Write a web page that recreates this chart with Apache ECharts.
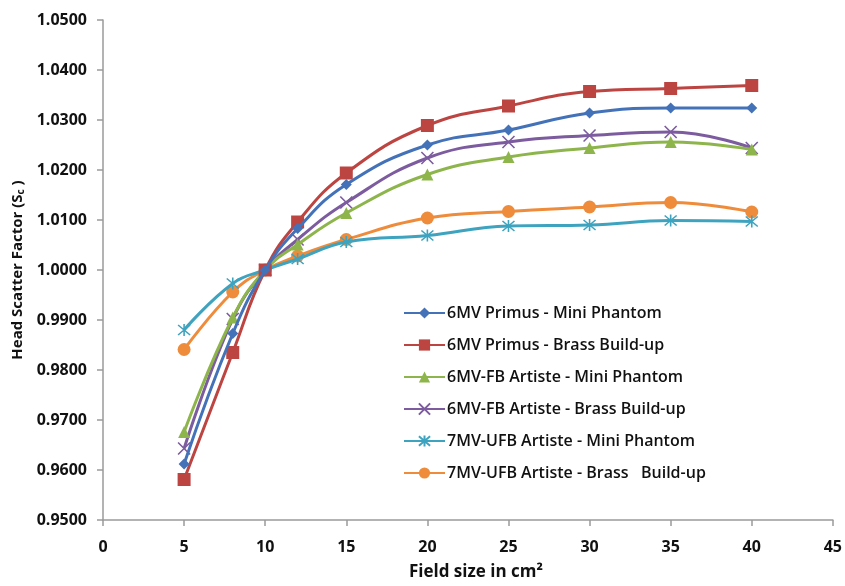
<!DOCTYPE html>
<html>
<head>
<meta charset="utf-8">
<script src="https://cdn.jsdelivr.net/npm/echarts@6/dist/echarts.min.js"></script>
<style>
html,body{margin:0;padding:0;background:#fff;}
#chart{width:845px;height:586px;}
</style>
</head>
<body>
<div id="chart"></div>
<script>
const fieldSizes = [5, 8, 10, 12, 15, 20, 25, 30, 35, 40];
const primusMini   = [0.9612, 0.9873, 1.0000, 1.0083, 1.0171, 1.0250, 1.0280, 1.0314, 1.0324, 1.0324];
const primusBrass  = [0.9581, 0.9835, 1.0000, 1.0096, 1.0194, 1.0289, 1.0328, 1.0357, 1.0363, 1.0369];
const fbMini       = [0.9676, 0.9905, 1.0000, 1.0051, 1.0114, 1.0191, 1.0226, 1.0244, 1.0256, 1.0241];
const fbBrass      = [0.9643, 0.9902, 1.0000, 1.0061, 1.0135, 1.0224, 1.0256, 1.0269, 1.0276, 1.0244];
const ufbMini      = [0.9880, 0.9973, 1.0000, 1.0022, 1.0056, 1.0069, 1.0088, 1.0090, 1.0099, 1.0097];
const ufbBrass     = [0.9841, 0.9956, 1.0000, 1.0028, 1.0061, 1.0104, 1.0117, 1.0126, 1.0135, 1.0116];
const seriesNames = [
  '6MV Primus - Mini Phantom',
  '6MV Primus - Brass Build-up',
  '6MV-FB Artiste - Mini Phantom',
  '6MV-FB Artiste - Brass Build-up',
  '7MV-UFB Artiste - Mini Phantom',
  '7MV-UFB Artiste - Brass   Build-up'
];
const yTicks = { min: 0.95, max: 1.05, step: 0.01 };
const xTicks = { min: 0, max: 45, step: 5 };

const allData = [primusMini, primusBrass, fbMini, fbBrass, ufbMini, ufbBrass];
const colors = ['#4472B8', '#BC4542', '#8DB54B', '#7C5C9F', '#3EA3BF', '#EE8C3C'];
const symbols = [
  'diamond',
  'rect',
  'triangle',
  'path://M0,0L10,10M10,0L0,10',
  'path://M0,0L10,10M10,0L0,10M5,-1L5,11',
  'circle'
];
const sizes = [11, 13, 12, 12, 12, 13];
const font = '"Open Sans", sans-serif';

const series = allData.map((arr, i) => ({
  name: seriesNames[i],
  type: 'line',
  data: fieldSizes.map((x, j) => [x, arr[j]]),
  smooth: 0.45,
  symbol: symbols[i],
  symbolSize: sizes[i],
  showAllSymbol: true,
  lineStyle: { color: colors[i], width: 3 },
  itemStyle: (i === 3 || i === 4)
    ? { color: colors[i], borderColor: colors[i], borderWidth: 1.6, opacity: 1 }
    : { color: colors[i], borderWidth: 0 },
  emphasis: { disabled: true },
  z: 10 - i
}));

const chart = echarts.init(document.getElementById('chart'), null, { renderer: 'canvas' });
chart.setOption({
  animation: false,
  backgroundColor: '#fff',
  color: colors,
  grid: { left: 103, right: 9, top: 20, bottom: 60, containLabel: false },
  xAxis: {
    type: 'value',
    min: xTicks.min, max: xTicks.max, interval: xTicks.step,
    name: 'Field size in cm\u00B2',
    nameLocation: 'middle',
    nameGap: 44,
    nameTextStyle: { fontFamily: font, fontSize: 17, fontWeight: 700, color: '#111', padding: [0, 0, 0, 16] },
    axisLine: { lineStyle: { color: '#9a9a9a', width: 1.5 } },
    axisTick: { show: true, length: 6, inside: false, lineStyle: { color: '#9a9a9a', width: 1.5 } },
    axisLabel: { fontFamily: font, fontSize: 16, fontWeight: 700, color: '#111', margin: 19 },
    splitLine: { show: false }
  },
  yAxis: {
    type: 'value',
    min: yTicks.min, max: yTicks.max, interval: yTicks.step,
    name: 'Head Scatter Factor (S{sub|c} )',
    nameLocation: 'middle',
    nameGap: 76,
    nameRotate: 90,
    nameTextStyle: {
      fontFamily: font, fontSize: 15, fontWeight: 700, color: '#111',
      rich: { sub: { fontFamily: font, fontSize: 10, fontWeight: 700, color: '#111', verticalAlign: 'bottom', padding: [6, 0, 0, 0] } }
    },
    axisLine: { show: true, lineStyle: { color: '#9a9a9a', width: 1.5 } },
    axisTick: { show: true, length: 6, lineStyle: { color: '#9a9a9a', width: 1.5 } },
    axisLabel: {
      fontFamily: font, fontSize: 16, fontWeight: 700, color: '#111', margin: 16,
      formatter: v => v.toFixed(4)
    },
    splitLine: { show: false }
  },
  legend: {
    orient: 'vertical',
    left: 398,
    top: 300,
    itemWidth: 41,
    itemHeight: 14,
    itemGap: 16,
    selectedMode: false,
    textStyle: { fontFamily: font, fontSize: 16, fontWeight: 600, color: '#111', padding: [0, 0, 0, -3] },
    data: seriesNames
  },
  series: series
});
</script>
</body>
</html>
